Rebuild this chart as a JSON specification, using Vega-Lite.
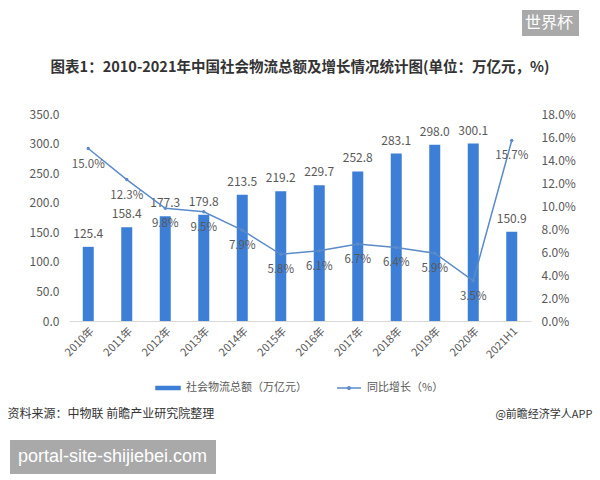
{
  "$schema": "https://vega.github.io/schema/vega-lite/v6.json",
  "width": 462,
  "height": 207,
  "autosize": {"type": "none"},
  "padding": {"left": 69, "top": 114, "right": 69, "bottom": 159},
  "background": "white",
  "config": {"font": "Noto Sans CJK SC", "view": {"stroke": null}, "axis": {"labelOverlap": false}},
  "title": {
    "text": "图表1：2010-2021年中国社会物流总额及增长情况统计图(单位：万亿元，%)",
    "fontSize": 14.5, "fontWeight": "bold", "color": "#333333",
    "anchor": "middle", "frame": "group", "offset": -65
  },
  "data": {
    "values": [
      {"year": "2010年", "total": 125.4, "growth": 0.150},
      {"year": "2011年", "total": 158.4, "growth": 0.123},
      {"year": "2012年", "total": 177.3, "growth": 0.098},
      {"year": "2013年", "total": 179.8, "growth": 0.095},
      {"year": "2014年", "total": 213.5, "growth": 0.079},
      {"year": "2015年", "total": 219.2, "growth": 0.058},
      {"year": "2016年", "total": 229.7, "growth": 0.061},
      {"year": "2017年", "total": 252.8, "growth": 0.067},
      {"year": "2018年", "total": 283.1, "growth": 0.064},
      {"year": "2019年", "total": 298.0, "growth": 0.059},
      {"year": "2020年", "total": 300.1, "growth": 0.035},
      {"year": "2021H1", "total": 150.9, "growth": 0.157}
    ]
  },
  "layer": [
    {
      "encoding": {
        "x": {"field": "year", "type": "nominal", "sort": null,
          "scale": {"paddingInner": 0, "paddingOuter": 0},
          "axis": {"title": null, "labelAngle": -45, "ticks": false, "domainColor": "#d9d9d9",
            "labelColor": "#595959", "labelFontSize": 11, "labelPadding": 4}},
        "y": {"field": "total", "type": "quantitative",
          "scale": {"domain": [0, 350], "nice": false},
          "axis": {"title": "资料来源：中物联 前瞻产业研究院整理", "titleAngle": 0, "titleX": -62, "titleY": 299,
            "titleAlign": "left", "titleBaseline": "middle", "titleFontSize": 12, "titleFontWeight": "normal",
            "titleColor": "#333333", "labelOverlap": false,
            "values": [0, 50, 100, 150, 200, 250, 300, 350], "format": ".1f",
            "domain": false, "ticks": false, "grid": false, "labelPadding": 10,
            "labelFontSize": 12, "labelColor": "#595959"}}
      },
      "layer": [
        {
          "mark": {"type": "bar", "size": 11},
          "encoding": {
            "color": {"datum": "社会物流总额（万亿元）",
              "scale": {"domain": ["社会物流总额（万亿元）", "同比增长（%）"], "range": ["#3d7fd6", "#5b8bc9"]},
              "legend": {"orient": "none", "legendX": 86, "legendY": 261, "direction": "horizontal", "title": null,
                "symbolSize": 576, "labelFontSize": 11, "labelColor": "#595959", "labelOffset": 5, "columnPadding": 27,
                "labelLimit": 300,
                "encode": {"symbols": {"update": {
                  "shape": {"signal": "datum.value === '同比增长（%）' ? 'M-1,0H1M-0.1,0A0.1,0.1 0 1,1 0.1,0A0.1,0.1 0 1,1 -0.1,0' : 'M-1,-0.13H1V0.13H-1Z'"},
                  "fill": {"scale": "color", "field": "value"},
                  "stroke": {"scale": "color", "field": "value"},
                  "strokeWidth": {"value": 1.5},
                  "opacity": {"value": 1}
                }}}}}
          }
        },
        {
          "mark": {"type": "text", "baseline": "bottom", "dy": -6, "fontSize": 12, "color": "#595959"},
          "encoding": {
            "text": {"field": "total", "type": "quantitative", "format": ".1f"}
          }
        }
      ]
    },
    {
      "encoding": {
        "x": {"field": "year", "type": "nominal", "sort": null},
        "y": {"field": "growth", "type": "quantitative",
          "scale": {"domain": [0, 0.18], "nice": false},
          "axis": {"orient": "right", "title": "@前瞻经济学人APP", "titleAngle": 0, "titleX": 61, "titleY": 300,
            "titleAlign": "right", "titleBaseline": "middle", "titleFontSize": 11, "titleFontWeight": "normal",
            "titleColor": "#333333", "labelOverlap": false,
            "values": [0, 0.02, 0.04, 0.06, 0.08, 0.10, 0.12, 0.14, 0.16, 0.18], "format": ".1%",
            "domain": false, "ticks": false, "grid": false, "labelPadding": 10,
            "labelFontSize": 12, "labelColor": "#595959"}}
      },
      "layer": [
        {
          "mark": {"type": "line", "strokeWidth": 1.5, "point": {"filled": true, "size": 12}},
          "encoding": {
            "color": {"datum": "同比增长（%）"}
          }
        },
        {
          "mark": {"type": "text", "baseline": "middle", "dy": 16, "fontSize": 11.5, "color": "#595959"},
          "encoding": {
            "text": {"field": "growth", "type": "quantitative", "format": ".1%"}
          }
        }
      ]
    },
    {
      "mark": {"type": "point", "opacity": 0},
      "encoding": {
        "fill": {"datum": "世界杯", "scale": {"range": ["#a9a9a9"]},
          "legend": {"orient": "none", "legendX": 453, "legendY": -104, "title": null,
            "fillColor": "#a9a9a9", "padding": 5, "symbolSize": 1, "symbolOpacity": 0, "symbolStrokeWidth": 0,
            "labelOffset": -18, "labelFontSize": 16, "labelColor": "#ffffff", "labelLimit": 300}}
      }
    },
    {
      "mark": {"type": "point", "opacity": 0},
      "encoding": {
        "stroke": {"datum": "portal-site-shijiebei.com", "scale": {"range": ["#a9a9a9"]},
          "legend": {"orient": "none", "legendX": -59, "legendY": 326, "title": null,
            "fillColor": "#a9a9a9", "padding": 8, "symbolSize": 1, "symbolOpacity": 0, "symbolStrokeWidth": 0,
            "labelOffset": -18, "labelFont": "Liberation Sans", "labelFontSize": 18, "labelColor": "#ffffff", "labelLimit": 400}}
      }
    }
  ],
  "resolve": {"scale": {"y": "independent"}}
}
